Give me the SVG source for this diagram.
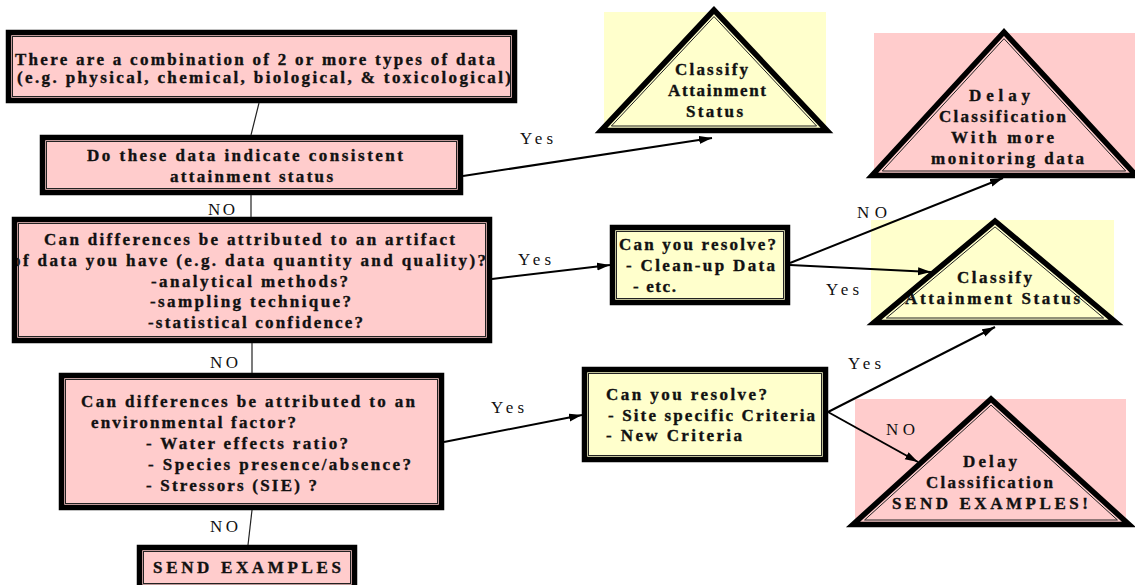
<svg xmlns="http://www.w3.org/2000/svg" width="1135" height="585" viewBox="0 0 1135 585">
<defs>
<style>
.pk{fill:#FFCCCC}
.yl{fill:#FFFFCC}
.fr{fill:none;stroke:#000;stroke-width:5.5}
.in{fill:none;stroke:#222;stroke-width:1}
.tf{fill:none;stroke:#000;stroke-width:5.5;stroke-linejoin:miter;stroke-miterlimit:10}
.ti{fill:none;stroke:#222;stroke-width:1}
.b{font-family:"Liberation Serif","Times New Roman",serif;font-weight:bold;font-size:17px;fill:#111;stroke:#111;stroke-width:0.35}
.l{font-family:"Liberation Serif","Times New Roman",serif;font-size:17px;fill:#111}
.ln{stroke:#222;stroke-width:1.2;fill:none}
.ar{stroke:#000;stroke-width:2;fill:none;marker-end:url(#ah)}
</style>
<marker id="ah" markerUnits="userSpaceOnUse" markerWidth="14" markerHeight="10" refX="13" refY="4" orient="auto">
<path d="M0,0 L13,4 L0,8 Z" fill="#000"/>
</marker>
</defs>
<rect width="1135" height="585" fill="#fff"/>

<g id="box-combination">
<rect class="pk" x="11" y="35" width="501" height="63"/>
<text class="b" x="15" y="65" textLength="480">There are a combination of 2 or more types of data</text>
<text class="b" x="17" y="83" textLength="494">(e.g. physical, chemical, biological, &amp; toxicological)</text>
<rect class="fr" x="8.5" y="32.5" width="506" height="68"/>
<rect class="in" x="12.5" y="36.5" width="498" height="60"/>
</g>

<g id="box-consistent">
<rect class="pk" x="45" y="140" width="413" height="50"/>
<text class="b" x="87" y="161" textLength="316">Do these data indicate consistent</text>
<text class="b" x="170" y="182" textLength="163">attainment status</text>
<rect class="fr" x="42.5" y="137.5" width="418" height="55"/>
<rect class="in" x="46.5" y="141.5" width="410" height="47"/>
</g>

<g id="box-artifact">
<rect class="pk" x="17" y="222" width="470" height="116"/>
<text class="b" x="44" y="245" textLength="411">Can differences be attributed to an artifact</text>
<text class="b" x="12" y="266" textLength="474">of data you have (e.g. data quantity and quality)?</text>
<text class="b" x="151" y="287" textLength="197">-analytical methods?</text>
<text class="b" x="150" y="307" textLength="201">-sampling technique?</text>
<text class="b" x="148" y="328" textLength="215">-statistical confidence?</text>
<rect class="fr" x="14.5" y="219.5" width="475" height="121"/>
<rect class="in" x="18.5" y="223.5" width="467" height="113"/>
</g>

<g id="box-environmental">
<rect class="pk" x="64" y="378" width="375" height="127"/>
<text class="b" x="81" y="407" textLength="334">Can differences be attributed to an</text>
<text class="b" x="91" y="428" textLength="205">environmental factor?</text>
<text class="b" x="146" y="449" textLength="202">- Water effects ratio?</text>
<text class="b" x="148" y="470" textLength="263">- Species presence/absence?</text>
<text class="b" x="146" y="491" textLength="171">- Stressors (SIE) ?</text>
<rect class="fr" x="61.5" y="375.5" width="380" height="132"/>
<rect class="in" x="65.5" y="379.5" width="372" height="124"/>
</g>

<g id="box-send-examples">
<rect class="pk" x="142" y="550" width="210" height="35"/>
<text class="b" x="153" y="573" textLength="188">SEND EXAMPLES</text>
<rect class="fr" x="139.5" y="547.5" width="215" height="40"/>
<rect class="in" x="143.5" y="551.5" width="207" height="32"/>
</g>

<g id="box-resolve-data">
<rect class="yl" x="615" y="230" width="170" height="70"/>
<text class="b" x="619" y="250" textLength="157">Can you resolve?</text>
<text class="b" x="626" y="271" textLength="149">- Clean-up Data</text>
<text class="b" x="633" y="292" textLength="43">- etc.</text>
<rect class="fr" x="612.5" y="227.5" width="175" height="75"/>
<rect class="in" x="616.5" y="231.5" width="167" height="67"/>
</g>

<g id="box-resolve-criteria">
<rect class="yl" x="587" y="372" width="236" height="85"/>
<text class="b" x="606" y="400" textLength="161">Can you resolve?</text>
<text class="b" x="608" y="421" textLength="207">- Site specific Criteria</text>
<text class="b" x="606" y="441" textLength="136">- New Criteria</text>
<rect class="fr" x="584.5" y="369.5" width="241" height="90"/>
<rect class="in" x="588.5" y="373.5" width="233" height="82"/>
</g>

<g id="tri-classify-1">
<rect class="yl" x="604" y="12" width="222" height="120"/>
<text class="b" x="675" y="75" textLength="73">Classify</text>
<text class="b" x="668" y="96" textLength="98">Attainment</text>
<text class="b" x="686" y="117" textLength="57">Status</text>
<polygon class="tf" points="714,10 601,130.5 827,130.5"/>
<polygon class="ti" points="714,16.6 611.4,126 816.6,126"/>
</g>

<g id="tri-delay-monitoring">
<rect class="pk" x="874" y="33" width="261" height="145"/>
<text class="b" x="969" y="101" textLength="61">Delay</text>
<text class="b" x="939" y="122" textLength="127">Classification</text>
<text class="b" x="951" y="143" textLength="103">With more</text>
<text class="b" x="931" y="164" textLength="153">monitoring data</text>
<polygon class="tf" points="1004,32 872,175.5 1136,175.5"/>
<polygon class="ti" points="1004,38.7 882.3,171 1125.7,171"/>
</g>

<g id="tri-classify-2">
<rect class="yl" x="871" y="220" width="243" height="103"/>
<text class="b" x="957" y="283" textLength="75">Classify</text>
<text class="b" x="905" y="304" textLength="175">Attainment Status</text>
<polygon class="tf" points="995,221 874,322.5 1116,322.5"/>
<polygon class="ti" points="995,226.9 886.4,318 1103.6,318"/>
</g>

<g id="tri-delay-send">
<rect class="pk" x="855" y="399" width="271" height="126"/>
<text class="b" x="963" y="467" textLength="54">Delay</text>
<text class="b" x="926" y="488" textLength="127">Classification</text>
<text class="b" x="892" y="509" textLength="196">SEND EXAMPLES!</text>
<polygon class="tf" points="991,399 853,524.5 1129,524.5"/>
<polygon class="ti" points="991,405.1 864.6,520 1117.4,520"/>
</g>

<g id="connectors">
<line class="ln" x1="259" y1="103" x2="251" y2="135"/>
<line class="ln" x1="251" y1="195" x2="251" y2="217"/>
<line class="ln" x1="252" y1="343" x2="252" y2="373"/>
<line class="ln" x1="252" y1="510" x2="248" y2="545"/>
<line class="ar" x1="463" y1="176" x2="712" y2="138"/>
<line class="ar" x1="492" y1="279" x2="610" y2="265"/>
<line class="ar" x1="444" y1="442" x2="582" y2="415"/>
<line class="ar" x1="790" y1="263" x2="1003" y2="178"/>
<line class="ar" x1="790" y1="265" x2="931" y2="272"/>
<line class="ar" x1="828" y1="412" x2="995" y2="327"/>
<line class="ar" x1="828" y1="412" x2="918" y2="462"/>
<text class="l" x="520" y="144" textLength="33">Yes</text>
<text class="l" x="208" y="215" textLength="27">NO</text>
<text class="l" x="518" y="265" textLength="33">Yes</text>
<text class="l" x="210" y="368" textLength="28">NO</text>
<text class="l" x="491" y="413" textLength="33">Yes</text>
<text class="l" x="210" y="532" textLength="28">NO</text>
<text class="l" x="857" y="218" textLength="30">NO</text>
<text class="l" x="826" y="295" textLength="33">Yes</text>
<text class="l" x="848" y="369" textLength="33">Yes</text>
<text class="l" x="886" y="435" textLength="29">NO</text>
</g>
</svg>
